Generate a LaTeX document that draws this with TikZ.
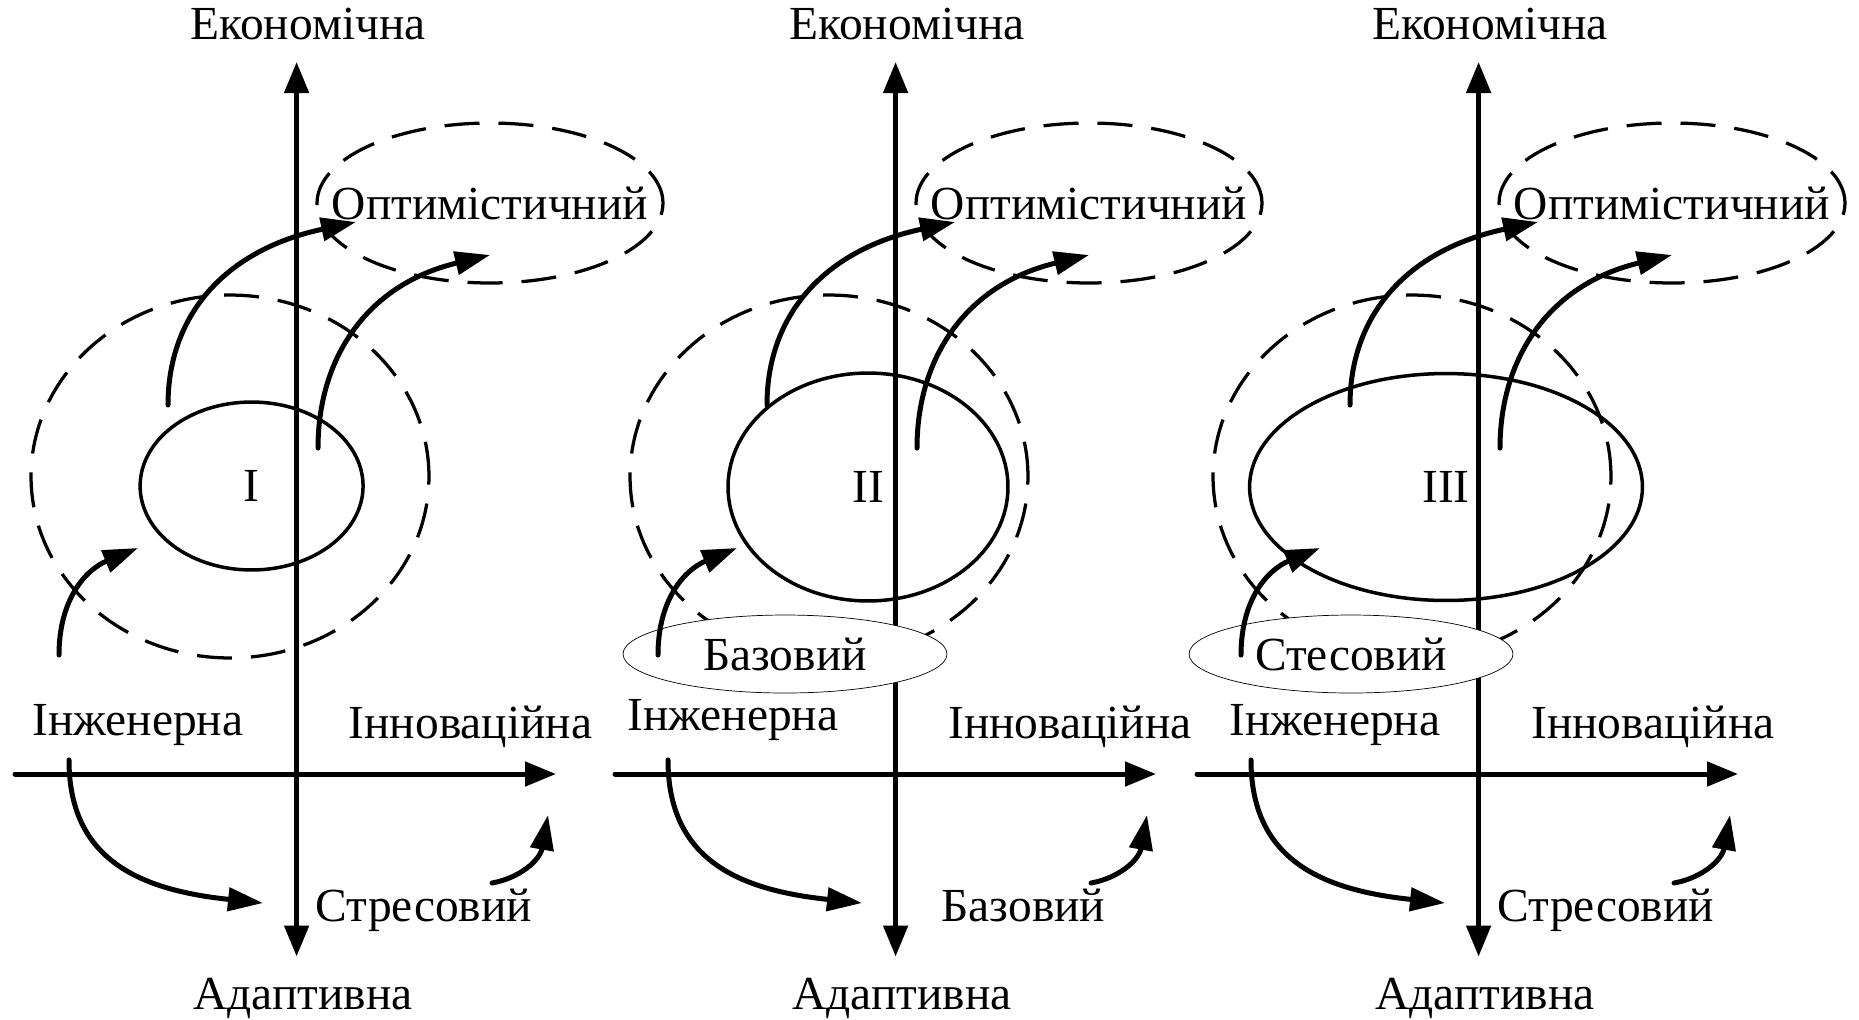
\documentclass[tikz,border=0pt]{standalone}
\usepackage{fontspec}
\setmainfont{Liberation Serif}
\usetikzlibrary{arrows.meta,shapes.geometric}

\begin{document}
\begin{tikzpicture}[
  x=0.02cm,
  y=-0.02cm,
  font=\fontsize{27}{32}\selectfont,
  >={Triangle[length=7mm,width=4.6mm]},
  axisline/.style={line width=1mm, line cap=round},
  zone/.style={
    ellipse,
    draw,
    line width=0.65mm,
    dash pattern=on 7mm off 3.8mm,
    minimum width=79.6mm,
    minimum height=72.6mm,
    inner sep=0pt
  },
  outlook/.style={zone, minimum width=69.2mm, minimum height=32mm},
  stage/.style={ellipse, draw, line width=0.7mm, inner sep=0pt},
  scenario/.style={
    ellipse,
    draw,
    line width=0.4pt,
    fill=white,
    minimum width=64.8mm,
    minimum height=15.6mm,
    inner sep=0pt
  },
  axislabel/.style={anchor=base, inner sep=0pt},
  move/.style={->, line width=1mm, line cap=round}
]
  \useasboundingbox (0,0) rectangle (1859,1019);

  \node[zone] (zone1) at (230,476.5) {};
  \node[zone] (zone2) at (829,476.5) {};
  \node[zone] (zone3) at (1412,476.5) {};

  \node[outlook] (optim1) at (490,203) {};
  \node[outlook] (optim2) at (1089,203) {};
  \node[outlook] (optim3) at (1672,203) {};
  \node[inner sep=0pt] (optimtext1) at (optim1) {Оптимістичний};
  \node[inner sep=0pt] (optimtext2) at (optim2) {Оптимістичний};
  \node[inner sep=0pt] (optimtext3) at (optim3) {Оптимістичний};

  \node[stage, minimum width=44.6mm, minimum height=33.6mm] (stateI) at (251.6,486) {I};
  \node[stage, minimum width=56mm, minimum height=45.6mm] (stateII) at (868,487) {II};
  \node[stage, minimum width=78.6mm, minimum height=45.4mm] (stateIII) at (1446,487) {III};

  \coordinate (top1) at (296.6,62);
  \coordinate (bot1) at (296.6,956.5);
  \coordinate (west1) at (15,774);
  \coordinate (east1) at (556,774);
  \coordinate (top2) at (895.6,62);
  \coordinate (bot2) at (895.6,956.5);
  \coordinate (west2) at (615,774);
  \coordinate (east2) at (1156,774);
  \coordinate (top3) at (1478.6,62);
  \coordinate (bot3) at (1478.6,956.5);
  \coordinate (west3) at (1197,774);
  \coordinate (east3) at (1738,774);

  \draw[axisline, -{Triangle[length=6.2mm,width=4.8mm]}] (west1) -- (east1);
  \draw[axisline, {Triangle[length=6.2mm,width=4.8mm]}-{Triangle[length=6.2mm,width=4.8mm]}] (bot1) -- (top1);
  \draw[axisline, -{Triangle[length=6.2mm,width=4.8mm]}] (west2) -- (east2);
  \draw[axisline, {Triangle[length=6.2mm,width=4.8mm]}-{Triangle[length=6.2mm,width=4.8mm]}] (bot2) -- (top2);
  \draw[axisline, -{Triangle[length=6.2mm,width=4.8mm]}] (west3) -- (east3);
  \draw[axisline, {Triangle[length=6.2mm,width=4.8mm]}-{Triangle[length=6.2mm,width=4.8mm]}] (bot3) -- (top3);

  \node[scenario] (basic2) at (785,654) {Базовий};
  \node[scenario] (stress3) at (1351,654) {Стесовий};

  \node[axislabel] (econ1) at (308,39) {Економічна};
  \node[axislabel] (econ2) at (907,39) {Економічна};
  \node[axislabel] (econ3) at (1490,39) {Економічна};
  \node[axislabel, anchor=base west] (eng1) at (32,735) {Інженерна};
  \node[axislabel, anchor=base west] (eng2) at (627,730) {Інженерна};
  \node[axislabel, anchor=base west] (eng3) at (1229,735) {Інженерна};
  \node[axislabel] (innov1) at (470.5,738) {Інноваційна};
  \node[axislabel] (innov2) at (1070,738) {Інноваційна};
  \node[axislabel] (innov3) at (1653,738) {Інноваційна};
  \node[axislabel] (low1) at (424,921) {Стресовий};
  \node[axislabel] (low2) at (1023.5,921) {Базовий};
  \node[axislabel] (low3) at (1606,921) {Стресовий};
  \node[axislabel] (adapt1) at (303,1009) {Адаптивна};
  \node[axislabel] (adapt2) at (902,1009) {Адаптивна};
  \node[axislabel] (adapt3) at (1485,1009) {Адаптивна};

  \coordinate (a1s) at (168,405);
  \coordinate (a1e) at (356,222);
  \coordinate (b1s) at (318,448);
  \coordinate (b1e) at (490,255);
  \coordinate (c1s) at (59,655);
  \coordinate (c1e) at (138,548);
  \coordinate (d1s) at (69,760);
  \coordinate (d1e) at (263,903);
  \coordinate (e1s) at (492,883);
  \coordinate (e1e) at (548,815);

  \coordinate (a2s) at (767,405);
  \coordinate (a2e) at (955,222);
  \coordinate (b2s) at (917,448);
  \coordinate (b2e) at (1089,255);
  \coordinate (c2s) at (658,655);
  \coordinate (c2e) at (737,548);
  \coordinate (d2s) at (668,760);
  \coordinate (d2e) at (862,903);
  \coordinate (e2s) at (1091,883);
  \coordinate (e2e) at (1147,815);

  \coordinate (a3s) at (1350,405);
  \coordinate (a3e) at (1538,222);
  \coordinate (b3s) at (1500,448);
  \coordinate (b3e) at (1672,255);
  \coordinate (c3s) at (1241,655);
  \coordinate (c3e) at (1320,548);
  \coordinate (d3s) at (1251,760);
  \coordinate (d3e) at (1445,903);
  \coordinate (e3s) at (1674,883);
  \coordinate (e3e) at (1730,815);

  \draw[move] (a1s) .. controls +(0,-90) and +(-131,28) .. (a1e);
  \draw[move] (b1s) .. controls +(0,-88) and +(-125,30) .. (b1e);
  \draw[move] (c1s) .. controls +(0,-55) and +(-53,22) .. (c1e);
  \draw[move] (d1s) .. controls +(0,100) and +(-123,-13) .. (d1e);
  \draw[move] (e1s) .. controls +(28,-5) and +(-8,45) .. (e1e);

  \draw[move] (a2s) .. controls +(0,-90) and +(-131,28) .. (a2e);
  \draw[move] (b2s) .. controls +(0,-88) and +(-125,30) .. (b2e);
  \draw[move] (c2s) .. controls +(0,-55) and +(-53,22) .. (c2e);
  \draw[move] (d2s) .. controls +(0,100) and +(-123,-13) .. (d2e);
  \draw[move] (e2s) .. controls +(28,-5) and +(-8,45) .. (e2e);

  \draw[move] (a3s) .. controls +(0,-90) and +(-131,28) .. (a3e);
  \draw[move] (b3s) .. controls +(0,-88) and +(-125,30) .. (b3e);
  \draw[move] (c3s) .. controls +(0,-55) and +(-53,22) .. (c3e);
  \draw[move] (d3s) .. controls +(0,100) and +(-123,-13) .. (d3e);
  \draw[move] (e3s) .. controls +(28,-5) and +(-8,45) .. (e3e);
\end{tikzpicture}
\end{document}
